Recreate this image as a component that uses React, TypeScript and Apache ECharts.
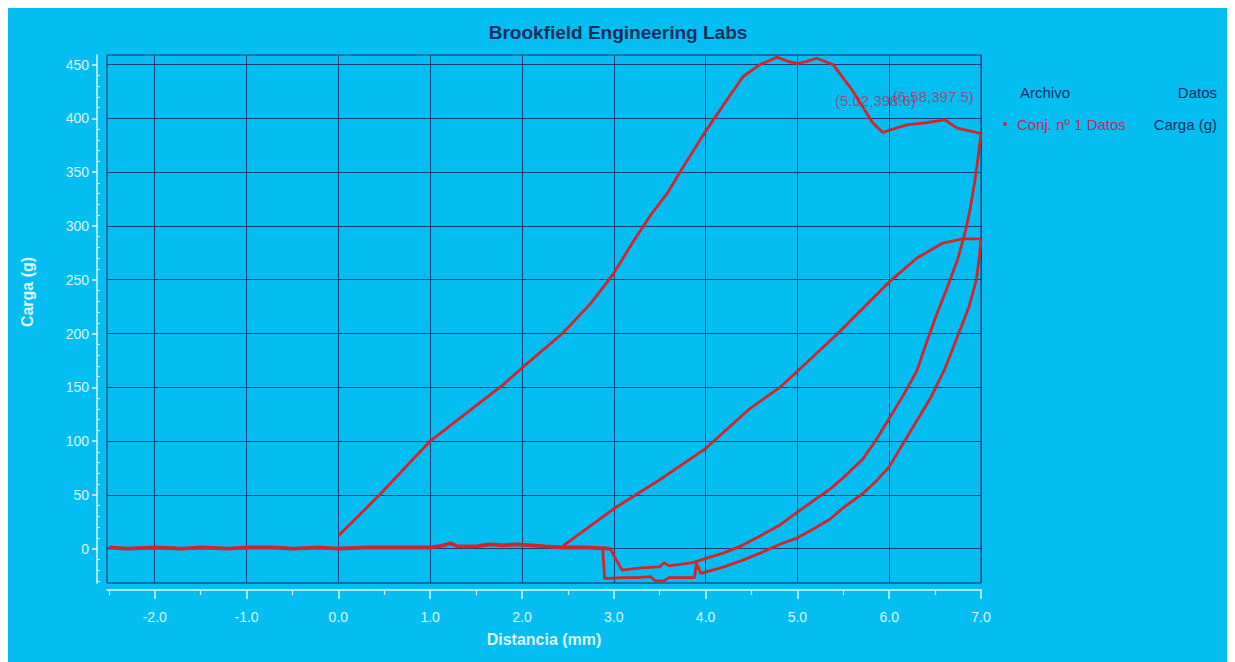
import React, { useEffect, useRef } from "react";
import * as echarts from "echarts";

const titleText = "Brookfield Engineering Labs";
const xName = "Distancia (mm)";
const yName = "Carga (g)";

const xTickValues = [-2, -1, 0, 1, 2, 3, 4, 5, 6, 7];
const xMinorTicks = [-2.5, -1.5, -0.5, 0.5, 1.5, 2.5, 3.5, 4.5, 5.5, 6.5];
const yTickValues = [0, 50, 100, 150, 200, 250, 300, 350, 400, 450];
const yMinorTicks = [-30, -20, -10, 10, 20, 30, 40, 60, 70, 80, 90, 110, 120, 130, 140, 160, 170, 180, 190, 210, 220, 230, 240, 260, 270, 280, 290, 310, 320, 330, 340, 360, 370, 380, 390, 410, 420, 430, 440];

// Baseline (probe travelling outside the sample)
const baseline = [
  [-2.5, 1], [-2.3, 0], [-2.0, 1], [-1.7, 0], [-1.5, 1], [-1.2, 0], [-1.0, 1], [-0.7, 1], [-0.5, 0],
  [-0.2, 1], [0.0, 0], [0.3, 1], [0.6, 1], [1.0, 1], [1.15, 3], [1.22, 5], [1.3, 2], [1.5, 2],
  [1.65, 4], [1.8, 3], [1.95, 4], [2.1, 3], [2.25, 2], [2.44, 1], [2.7, 1], [2.96, 0],
];

// First compression
const compression1 = [
  [0.0, 12], [0.45, 50], [1.0, 100], [1.5, 133], [1.79, 152], [2.0, 168], [2.44, 200], [2.75, 228],
  [3.0, 256], [3.2, 284], [3.4, 310], [3.58, 330], [3.72, 350], [3.8, 361], [4.0, 388], [4.23, 417],
  [4.41, 439], [4.59, 450], [4.78, 457], [4.9, 453], [5.0, 451], [5.1, 453], [5.21, 456], [5.3, 453],
  [5.39, 450], [5.6, 426], [5.82, 396], [5.93, 387], [6.0, 389], [6.19, 394], [6.4, 396], [6.55, 398],
  [6.6, 399], [6.74, 391], [6.9, 388], [7.0, 386],
];

// First withdrawal
const withdrawal1 = [
  [7.0, 386], [6.97, 365], [6.93, 340], [6.88, 315], [6.83, 295], [6.75, 270], [6.63, 242], [6.5, 214],
  [6.4, 190], [6.3, 165], [6.15, 142], [6.0, 121], [5.85, 100], [5.71, 83], [5.5, 66], [5.35, 55],
  [5.15, 43], [5.0, 34], [4.81, 22], [4.6, 12], [4.4, 3], [4.2, -4], [3.97, -10], [3.86, -13],
  [3.7, -15], [3.6, -16], [3.55, -13], [3.5, -17], [3.3, -18], [3.09, -20], [2.96, 0],
];

// Second compression
const compression2 = [
  [2.44, 1], [2.47, 4], [3.0, 37], [3.5, 64], [4.0, 93], [4.48, 130], [4.81, 150], [5.0, 165],
  [5.44, 200], [6.0, 248], [6.3, 270], [6.58, 284], [6.8, 288], [7.0, 288],
];

// Second withdrawal
const withdrawal2 = [
  [7.0, 288], [6.98, 270], [6.95, 250], [6.87, 225], [6.77, 203], [6.68, 183], [6.6, 166], [6.45, 140],
  [6.26, 113], [6.0, 76], [5.85, 62], [5.71, 51], [5.5, 38], [5.35, 27], [5.15, 17], [5.0, 10],
  [4.81, 4], [4.6, -4], [4.4, -11], [4.2, -17], [3.95, -23], [3.9, -14], [3.88, -27], [3.6, -27],
  [3.55, -30], [3.45, -30], [3.4, -26], [3.25, -27], [3.1, -27], [2.9, -28], [2.88, 0],
];

const annotations = [
  { value: [5.41, 417], name: "(5.02,398.6)" },
  { value: [6.04, 420], name: "(6.58,397.5)" },
];

const BG = "#05BEF1";
const NAVY = "#0f2d5c";
const GRID = "#153f73";
const LIGHT = "#dff6ff";
const RED = "#d3232c";
const FONT = "'Liberation Sans', Arial, sans-serif";

export default function App() {
  const ref = useRef<HTMLDivElement>(null);

  useEffect(() => {
    if (!ref.current) return;
    const chart = echarts.init(ref.current, null, { renderer: "svg" });
    const lineSeries = (data: number[][], width = 2.8) => ({
      type: "line",
      data,
      xAxisIndex: 0,
      yAxisIndex: 0,
      showSymbol: false,
      smooth: false,
      lineStyle: { color: RED, width },
      itemStyle: { color: RED },
      silent: true,
    });
    chart.setOption({
      animation: false,
      backgroundColor: BG,
      textStyle: { fontFamily: FONT },
      title: {
        text: titleText,
        left: "center",
        top: 10,
        textStyle: { color: NAVY, fontSize: 19, fontWeight: "bold", fontFamily: FONT },
      },
      grid: {
        left: 99,
        right: 247,
        top: 47,
        bottom: 79,
        show: true,
        backgroundColor: BG,
        borderColor: NAVY,
        borderWidth: 1,
        outerBoundsMode: "none",
      },
      xAxis: [
        {
          type: "value",
          min: -2.52,
          max: 7,
          position: "bottom",
          offset: 7,
          name: xName,
          nameLocation: "middle",
          nameGap: 41,
          nameTextStyle: { color: LIGHT, fontSize: 16, fontWeight: "bold", fontFamily: FONT },
          axisLine: { show: true, onZero: false, lineStyle: { color: LIGHT, width: 1.5 } },
          axisTick: { show: true, length: 9, customValues: xTickValues, lineStyle: { color: LIGHT, width: 1.5 } },
          axisLabel: {
            show: true,
            customValues: xTickValues,
            margin: 20,
            color: LIGHT,
            fontSize: 14,
            fontFamily: FONT,
            formatter: (v: number) => v.toFixed(1),
          },
          splitLine: { show: true, lineStyle: { color: GRID, width: 1 } },
        },
        {
          type: "value",
          min: -2.52,
          max: 7,
          position: "bottom",
          offset: 7,
          axisLine: { show: false, onZero: false },
          axisTick: { show: true, length: 5, customValues: xMinorTicks, lineStyle: { color: LIGHT, width: 1.2 } },
          axisLabel: { show: false },
          splitLine: { show: false },
        },
      ],
      yAxis: [
        {
          type: "value",
          min: -32,
          max: 459,
          position: "left",
          offset: 10,
          axisLine: { show: true, onZero: false, lineStyle: { color: LIGHT, width: 1.5 } },
          axisTick: { show: true, length: 5, customValues: yTickValues, lineStyle: { color: LIGHT, width: 1.5 } },
          axisLabel: {
            show: true,
            customValues: yTickValues,
            margin: 8,
            color: LIGHT,
            fontSize: 14,
            fontFamily: FONT,
          },
          splitLine: { show: true, lineStyle: { color: GRID, width: 1 } },
        },
        {
          type: "value",
          min: -32,
          max: 459,
          position: "left",
          offset: 10,
          axisLine: { show: false, onZero: false },
          axisTick: { show: true, inside: true, length: 3, customValues: yMinorTicks, lineStyle: { color: LIGHT, width: 1 } },
          axisLabel: { show: false },
          splitLine: { show: false },
        },
      ],
      series: [
        lineSeries(baseline, 3.8),
        lineSeries(compression1),
        lineSeries(withdrawal1),
        lineSeries(compression2),
        lineSeries(withdrawal2),
        {
          type: "scatter",
          data: annotations,
          symbolSize: 0,
          silent: true,
          label: {
            show: true,
            position: "right",
            distance: 0,
            color: "#b8306a",
            fontSize: 15,
            fontFamily: FONT,
            formatter: (p: any) => p.name,
          },
        },
      ],
      graphic: [
        {
          type: "text",
          x: 19,
          y: 284,
          rotation: Math.PI / 2,
          style: {
            text: yName,
            fill: LIGHT,
            font: `bold 16px ${FONT}`,
            align: "center",
            verticalAlign: "middle",
          },
        },
        {
          type: "text",
          x: 1012,
          y: 84,
          style: { text: "Archivo", fill: NAVY, font: `15px ${FONT}`, align: "left", verticalAlign: "middle" },
        },
        {
          type: "text",
          x: 1209,
          y: 84,
          style: { text: "Datos", fill: NAVY, font: `15px ${FONT}`, align: "right", verticalAlign: "middle" },
        },
        {
          type: "circle",
          shape: { cx: 997, cy: 116, r: 2 },
          style: { fill: "#c8285a" },
        },
        {
          type: "text",
          x: 1009,
          y: 116,
          style: { text: "Conj. nº 1 Datos", fill: "#c8285a", font: `15px ${FONT}`, align: "left", verticalAlign: "middle" },
        },
        {
          type: "text",
          x: 1209,
          y: 116,
          style: { text: "Carga (g)", fill: NAVY, font: `15px ${FONT}`, align: "right", verticalAlign: "middle" },
        },
      ],
    });
    return () => chart.dispose();
  }, []);

  return <div ref={ref} style={{ width: 1220, height: 654 }} />;
}
